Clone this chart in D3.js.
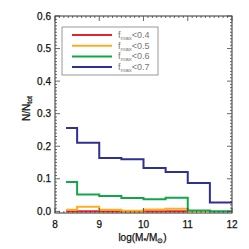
<!DOCTYPE html>
<html>
<head>
<meta charset="utf-8">
<script src="https://cdn.jsdelivr.net/npm/d3@7"></script>
<style>
body { margin: 0; background: #fff; }
text { font-family: "Liberation Sans", Arial, sans-serif; }
</style>
</head>
<body>
<div id="plot"></div>
<script>
// bin edges and histogram values
const edges = [8.25, 8.5, 9.0, 9.5, 10.0, 10.5, 11.0, 11.5, 12.0];
const blueVals = [0.256, 0.211, 0.164, 0.160, 0.133, 0.121, 0.087, 0.027];
const greenVals = [0.090, 0.052, 0.047, 0.041, 0.037, 0.042, 0.003, 0.0];
const orangeVals = [0.005, 0.014, 0.005, 0.002, 0.006, 0.008, 0.0];
const redVals = [0.0, 0.0, 0.0, 0.0, 0.0, 0.0];
const labels = ["0.4", "0.5", "0.6", "0.7"];
const colors = ["#e8242b", "#fbb021", "#12a64b", "#2e3192"];
const xTicks = [8, 9, 10, 11, 12];
const yTicks = [0.0, 0.1, 0.2, 0.3, 0.4, 0.5, 0.6];

const W = 249, H = 249;
const margin = {top: 16, right: 17, bottom: 36, left: 55};
const width = W - margin.left - margin.right,
    height = H - margin.top - margin.bottom;

const svg = d3.select("#plot").append("svg")
    .attr("width", W).attr("height", H)
  .append("g")
    .attr("transform", "translate(" + margin.left + "," + margin.top + ")");

const x = d3.scaleLinear().domain([8, 12]).range([0, width]);
const y = d3.scaleLinear().domain([-0.005, 0.6]).range([height, 0]);

// frame
svg.append("rect")
    .attr("width", width).attr("height", height)
    .attr("fill", "none")
    .attr("stroke", "#333")
    .attr("stroke-width", 1);

// histogram steps
const series = [redVals, orangeVals, greenVals, blueVals];
const line = d3.line()
    .x(d => x(d[0]))
    .y(d => y(d[1]))
    .curve(d3.curveStepAfter);

series.forEach((vals, i) => {
    let pts = vals.map((v, j) => [edges[j], v]);
    pts.push([edges[vals.length], vals[vals.length - 1]]);
    svg.append("path")
        .datum(pts)
        .attr("fill", "none")
        .attr("stroke", colors[i])
        .attr("stroke-width", 2)
        .attr("d", line);
});

// ticks (inward, on all four sides)
const tickCol = "#444";
function xTick(v, len) {
    svg.append("line").attr("x1", x(v)).attr("x2", x(v))
        .attr("y1", height).attr("y2", height - len)
        .attr("stroke", tickCol).attr("stroke-width", 0.8);
    svg.append("line").attr("x1", x(v)).attr("x2", x(v))
        .attr("y1", 0).attr("y2", len)
        .attr("stroke", tickCol).attr("stroke-width", 0.8);
}
function yTick(v, len) {
    svg.append("line").attr("x1", 0).attr("x2", len)
        .attr("y1", y(v)).attr("y2", y(v))
        .attr("stroke", tickCol).attr("stroke-width", 0.8);
    svg.append("line").attr("x1", width).attr("x2", width - len)
        .attr("y1", y(v)).attr("y2", y(v))
        .attr("stroke", tickCol).attr("stroke-width", 0.8);
}
d3.range(80, 121).forEach(k => xTick(k / 10, k % 10 === 0 ? 5 : 2));
d3.range(0, 61).forEach(k => yTick(k / 100, k % 10 === 0 ? 5 : 2));

// tick labels
svg.selectAll(".xl").data(xTicks).enter().append("text")
    .attr("x", d => x(d)).attr("y", height + 15)
    .attr("text-anchor", "middle")
    .attr("font-size", 10).attr("fill", "#111")
    .attr("stroke", "#111").attr("stroke-width", 0.25)
    .text(d => d);
svg.selectAll(".yl").data(yTicks).enter().append("text")
    .attr("x", -4).attr("y", d => y(d) + 3.5)
    .attr("text-anchor", "end")
    .attr("font-size", 10).attr("fill", "#111")
    .attr("stroke", "#111").attr("stroke-width", 0.25)
    .text(d => d.toFixed(1));

// axis titles
const xt = svg.append("text")
    .attr("x", width / 2 - 1).attr("y", height + 28)
    .attr("text-anchor", "middle")
    .attr("font-size", 10).attr("fill", "#111")
    .attr("stroke", "#111").attr("stroke-width", 0.25);
xt.append("tspan").text("log(M");
xt.append("tspan").attr("font-size", 7).attr("dy", 2).text("*");
xt.append("tspan").attr("dy", -2).text("/M");
xt.append("tspan").attr("font-size", 7).attr("dy", 2).text("\u2299");
xt.append("tspan").attr("dy", -2).text(")");

const yt = svg.append("text")
    .attr("transform", "translate(-25," + (height / 2 - 6) + ") rotate(-90)")
    .attr("text-anchor", "middle")
    .attr("font-size", 10).attr("fill", "#111")
    .attr("stroke", "#111").attr("stroke-width", 0.25);
yt.append("tspan").text("N/N");
yt.append("tspan").attr("font-size", 7).attr("dy", 2).text("tot");

// legend
const lg = svg.append("g").attr("transform", "translate(7,11)");
lg.append("rect")
    .attr("width", 96).attr("height", 48)
    .attr("fill", "#fff")
    .attr("stroke", "#999").attr("stroke-width", 1);
labels.forEach((l, i) => {
    const ly = 8 + i * 10.7;
    lg.append("line")
        .attr("x1", 10).attr("x2", 50)
        .attr("y1", ly).attr("y2", ly)
        .attr("stroke", colors[i]).attr("stroke-width", 2);
    const t = lg.append("text")
        .attr("x", 56).attr("y", ly + 3)
        .attr("font-size", 9).attr("fill", "#777");
    t.append("tspan").text("f");
    t.append("tspan").attr("font-size", 6).attr("dy", 2).text("max");
    t.append("tspan").attr("dy", -2).text("<" + l);
});
</script>
</body>
</html>
